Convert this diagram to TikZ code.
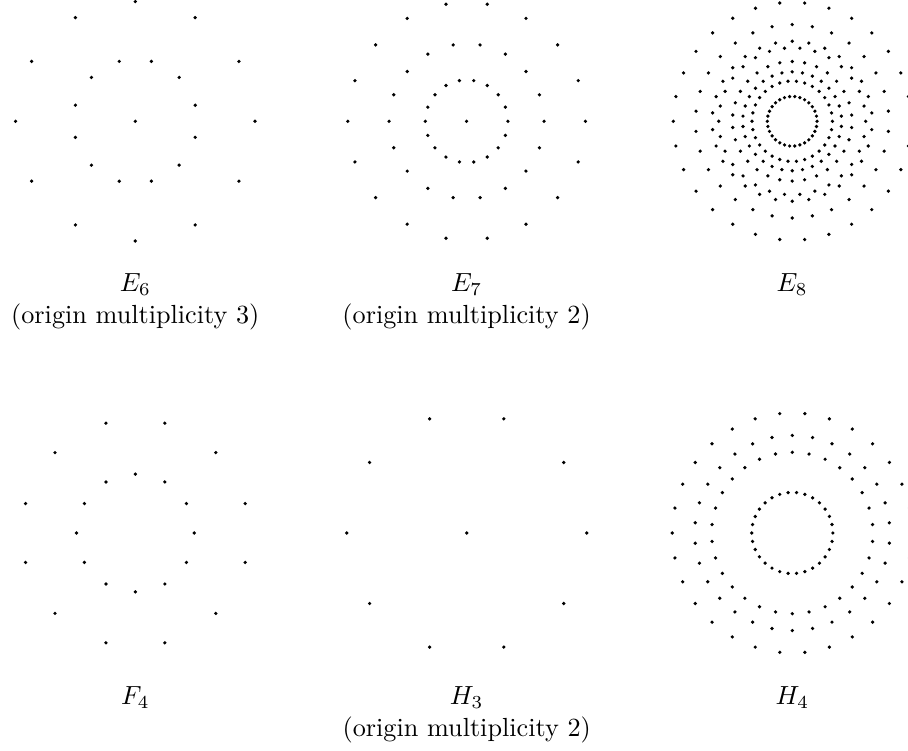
\documentclass[tikz,border=0pt]{standalone}
\usetikzlibrary{positioning}
\begin{document}
\begin{tikzpicture}[x=0.3817pt,y=-0.3817pt,
  rootdot/.style={fill=black},
  lbl/.style={anchor=base,inner sep=0pt}]
\useasboundingbox (0,0) rectangle (908,751);
% top row
\begin{scope}[shift={(135.3,121.3)}]
\foreach \r/\p in {119.7/0,62/15} \foreach \k in {0,...,11} \fill[rootdot] (\p+30*\k:\r) circle[radius=0.7pt];
\fill[rootdot] (0,0) circle[radius=0.7pt];
\end{scope}
\begin{scope}[shift={(466.6,121.3)}]
\foreach \r in {118.8,77.5,41.3} \foreach \k in {0,...,17} \fill[rootdot] (20*\k:\r) circle[radius=0.7pt];
\fill[rootdot] (0,0) circle[radius=0.7pt];
\end{scope}
\begin{scope}[shift={(792.2,121.3)}]
\foreach \r/\p in {118.9/0,73.48/0,40.22/0,24.86/0,96.72/6,80/6,59.78/6,49.44/6} \foreach \k in {0,...,29} \fill[rootdot] (\p+12*\k:\r) circle[radius=0.7pt];
\end{scope}
\node[lbl] (e6) at (135.3,292) {$E_6$};
\node[lbl] (e6m) at ([yshift=-12.2pt]e6.base) {(origin multiplicity 3)};
\node[lbl] (e7) at (466.6,292) {$E_7$};
\node[lbl] (e7m) at ([yshift=-12.2pt]e7.base) {(origin multiplicity 2)};
\node[lbl] (e8) at (792.2,292) {$E_8$};
% bottom row
\begin{scope}[shift={(135.4,533)}]
\foreach \r/\p in {113.7/15,58.9/0} \foreach \k in {0,...,11} \fill[rootdot] (\p+30*\k:\r) circle[radius=0.7pt];
\end{scope}
\begin{scope}[shift={(466.7,533)}]
\foreach \k in {0,...,9} \fill[rootdot] (36*\k:120) circle[radius=0.7pt];
\fill[rootdot] (0,0) circle[radius=0.7pt];
\end{scope}
\begin{scope}[shift={(792.3,533)}]
\foreach \r/\p in {120/0,40.6/0,97.6/6,80.7/6} \foreach \k in {0,...,29} \fill[rootdot] (\p+12*\k:\r) circle[radius=0.7pt];
\end{scope}
\node[lbl] (f4) at (135.4,704.6) {$F_4$};
\node[lbl] (h3) at (466.7,704.6) {$H_3$};
\node[lbl] (h3m) at ([yshift=-12.2pt]h3.base) {(origin multiplicity 2)};
\node[lbl] (h4) at (792.3,704.6) {$H_4$};
\end{tikzpicture}
\end{document}
